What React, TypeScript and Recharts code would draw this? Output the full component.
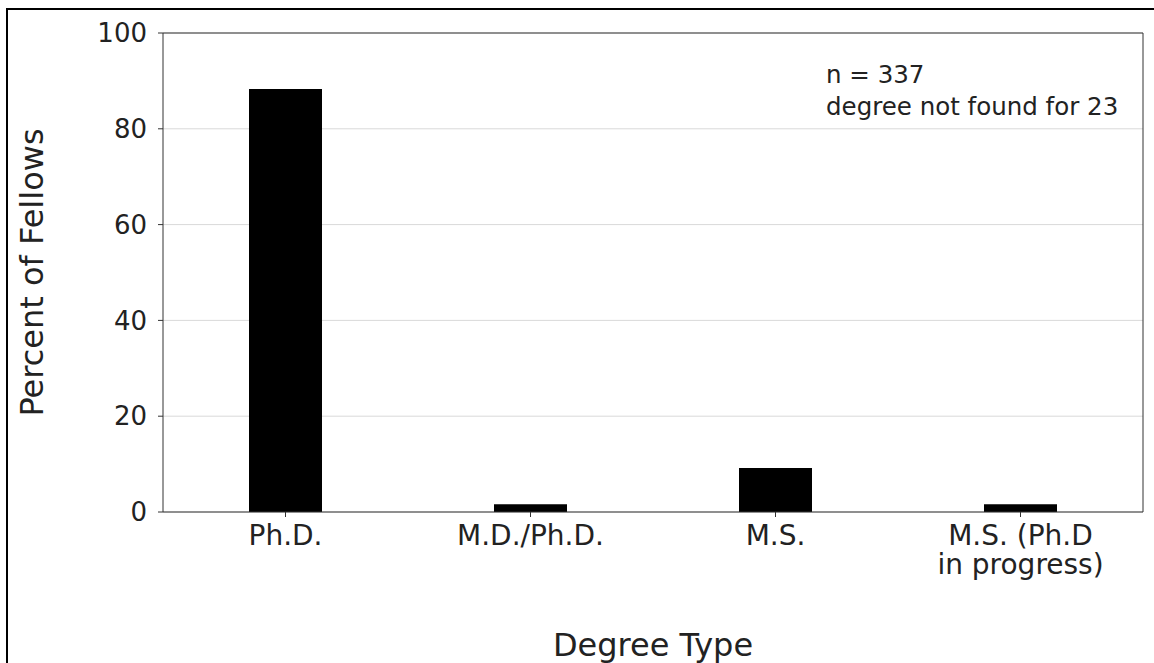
import React from "react";
import { BarChart, Bar, XAxis, YAxis, CartesianGrid, Label } from "recharts";

const degrees = ["Ph.D.", "M.D./Ph.D.", "M.S.", "M.S. (Ph.D\nin progress)"];
const percents = [88.3, 1.6, 9.2, 1.6];
const yTicks = [0, 20, 40, 60, 80, 100];
const noteLines = ["n = 337", "degree not found for 23"];

const data = degrees.map((d, i) => ({ degree: d, pct: percents[i] }));

const FONT = "'DejaVu Sans', sans-serif";
const AXIS = "#333333";

function DegreeTick(props: any) {
  const { x, y, payload } = props;
  const lines = String(payload.value).split("\n");
  return (
    <g transform={`translate(${x},${y})`}>
      <text textAnchor="middle" fill="#222" fontSize={28} fontFamily={FONT}>
        {lines.map((l, i) => (
          <tspan key={i} x={0} dy={i === 0 ? 24 : 29}>
            {l}
          </tspan>
        ))}
      </text>
    </g>
  );
}

export default function App() {
  return (
    <div
      style={{
        position: "fixed",
        left: 0,
        top: 0,
        width: 1154,
        height: 663,
        background: "#fff",
        overflow: "hidden",
        fontFamily: FONT,
      }}
    >
      <div
        style={{
          position: "absolute",
          left: 6,
          top: 8,
          width: 1200,
          height: 700,
          borderTop: "2px solid #000",
          borderLeft: "2px solid #000",
        }}
      />
      <div style={{ position: "absolute", left: 0, top: 0 }}>
        <BarChart
          width={1154}
          height={663}
          data={data}
          margin={{ top: 32, right: 10, left: 0, bottom: 0 }}
        >
          <CartesianGrid vertical={false} stroke="#d9d9d9" strokeWidth={1} />
          <XAxis
            dataKey="degree"
            height={151}
            tick={<DegreeTick />}
            tickSize={5}
            tickMargin={4}
            stroke={AXIS}
            axisLine={{ stroke: AXIS }}
            tickLine={{ stroke: AXIS }}
            interval={0}
          >
            <Label
              value="Degree Type"
              position="insideBottom"
              offset={7}
              fill="#222"
              fontSize={32}
              fontFamily={FONT}
            />
          </XAxis>
          <XAxis
            xAxisId="top"
            orientation="top"
            dataKey="degree"
            height={1}
            tick={false}
            tickLine={false}
            stroke={AXIS}
            axisLine={true}
          />
          <YAxis
            width={163}
            domain={[0, 100]}
            ticks={yTicks}
            tickSize={5}
            tickMargin={11}
            stroke={AXIS}
            axisLine={{ stroke: AXIS }}
            tickLine={{ stroke: AXIS }}
            tick={{ fill: "#222", fontSize: 26, fontFamily: FONT }}
          >
            <Label
              value="Percent of Fellows"
              angle={-90}
              position="insideLeft"
              offset={32}
              fill="#222"
              fontSize={32}
              fontFamily={FONT}
              style={{ textAnchor: "middle" }}
            />
          </YAxis>
          <YAxis
            yAxisId="right"
            orientation="right"
            width={1}
            domain={[0, 100]}
            tick={false}
            tickLine={false}
            stroke={AXIS}
            axisLine={true}
          />
          <Bar dataKey="pct" fill="#000" barSize={73} isAnimationActive={false} />
        </BarChart>
      </div>
      <div
        style={{
          position: "absolute",
          left: 826,
          top: 59,
          fontSize: 24.5,
          lineHeight: "31.5px",
          color: "#222",
        }}
      >
        {noteLines.map((l) => (
          <div key={l}>{l}</div>
        ))}
      </div>
    </div>
  );
}
